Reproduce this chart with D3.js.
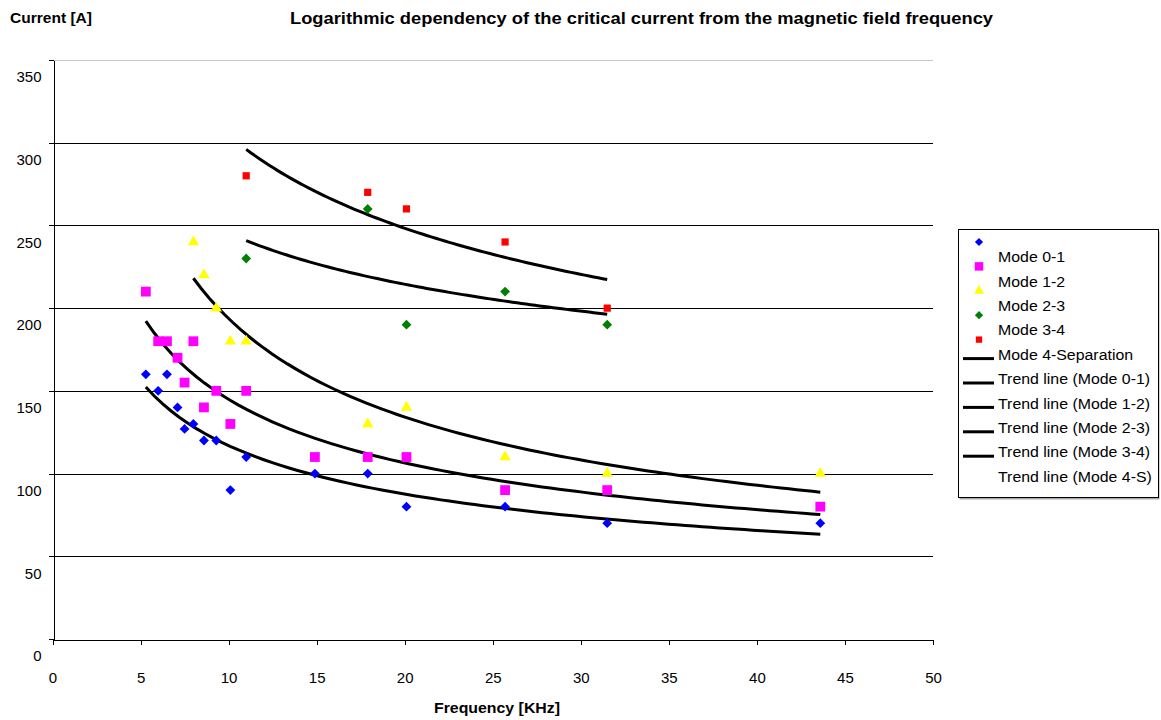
<!DOCTYPE html>
<html>
<head>
<meta charset="utf-8">
<script src="https://cdn.jsdelivr.net/npm/d3@7"></script>
<style>
  body { margin: 0; background: #fff; }
  text { font-family: "Liberation Sans", Arial, sans-serif; fill: #000; }
  .grid line { stroke: #000; shape-rendering: crispEdges; }
  .trend { fill: none; stroke: #000; stroke-width: 3; }
</style>
</head>
<body>
<svg id="chart" width="1161" height="720"></svg>
<script>
'use strict';

// frequencies [KHz]
const freqA = [5.3, 6.0, 6.5, 7.1, 7.5, 8.0, 8.6, 9.3, 10.1, 11.0, 14.9, 17.9, 20.1, 25.7, 31.5, 43.6];
const freqB = [8.0, 8.6, 9.3, 10.1, 11.0, 17.9, 20.1, 25.7, 31.5, 43.6];
const freqC = [11.0, 17.9, 20.1, 25.7, 31.5];

// critical current [A]
const mode01 = [160, 150, 160, 140, 127, 130, 120, 120, 90, 110, 100, 100, 80, 80, 70, 70];
const mode12 = [210, 180, 180, 170, 155, 180, 140, 150, 130, 150, 110, 110, 110, 90, 90, 80];
const mode23 = [240, 220, 200, 180, 180, 130, 140, 110, 100, 100];
const mode34 = [230, 260, 190, 210, 190];
const mode4S = [280, 270, 260, 240, 200];

const xTicks = [0, 5, 10, 15, 20, 25, 30, 35, 40, 45, 50];
const yTicks = [0, 50, 100, 150, 200, 250, 300, 350];

const legendLabels = ['Mode 0-1', 'Mode 1-2', 'Mode 2-3', 'Mode 3-4', 'Mode 4-Separation',
  'Trend line (Mode 0-1)', 'Trend line (Mode 1-2)', 'Trend line (Mode 2-3)',
  'Trend line (Mode 3-4)', 'Trend line (Mode 4-S)'];

const series = [
  { x: freqA, y: mode01, color: '#0000ff', shape: 'diamond', size: 48, legSize: 34 },
  { x: freqA, y: mode12, color: '#ff00ff', shape: 'square', size: 96, legSize: 72 },
  { x: freqB, y: mode23, color: '#ffff00', shape: 'triangle', size: 56, legSize: 42 },
  { x: freqC, y: mode34, color: '#008000', shape: 'diamond', size: 48, legSize: 34 },
  { x: freqC, y: mode4S, color: '#ff0000', shape: 'square', size: 52, legSize: 40 }
];

const svg = d3.select('#chart');

const x = d3.scaleLinear().domain([0, 50]).range([52.5, 933]);
const y = d3.scaleLinear().domain([0, 350]).range([639, 60]);

const symbolPath = function(shape, size) {
  if (shape === 'triangle') return d3.symbol(d3.symbolTriangle, size)();
  return d3.symbol(d3.symbolSquare, size)();
};
const symbolRot = shape => shape === 'diamond' ? ' rotate(45)' : '';

// power trend line, least squares in log-log space (like the spreadsheet does)
const powerFit = function(xs, ys) {
  const lx = xs.map(Math.log), ly = ys.map(Math.log);
  const mx = d3.mean(lx), my = d3.mean(ly);
  const b = d3.sum(lx, (v, i) => (v - mx) * (ly[i] - my)) / d3.sum(lx, v => (v - mx) * (v - mx));
  const a = Math.exp(my - b * mx);
  const [x0, x1] = d3.extent(xs);
  return d3.range(0, 81).map(i => {
    const xv = x0 + (x1 - x0) * i / 80;
    return [xv, a * Math.pow(xv, b)];
  });
};

// grid
const grid = svg.append('g').attr('class', 'grid');
grid.selectAll('line')
  .data(yTicks.filter(t => t > 0))
  .enter().append('line')
    .attr('x1', x(0)).attr('x2', x(50))
    .attr('y1', d => Math.round(y(d)) + 0.5)
    .attr('y2', d => Math.round(y(d)) + 0.5)
    .style('stroke', d => d === 350 ? '#c8c8c8' : '#000');

// axes
const xAxis = svg.append('g')
  .attr('transform', `translate(0, ${Math.round(y(0)) + 0.5})`)
  .call(d3.axisBottom(x).tickValues(xTicks).tickSize(5).tickSizeOuter(0).tickFormat(d3.format('d')));
xAxis.selectAll('text').attr('dy', 0).attr('y', 43).style('font-size', '15px');

const yAxis = svg.append('g')
  .attr('transform', `translate(${Math.round(x(0)) + 0.5}, 0)`)
  .call(d3.axisLeft(y).tickValues(yTicks).tickSize(5).tickSizeOuter(0).tickFormat(d3.format('d')));
yAxis.selectAll('text').attr('x', -12).attr('dy', '1.45em').style('font-size', '15px');
svg.selectAll('.domain, .tick line').attr('stroke', '#000').style('shape-rendering', 'crispEdges');
svg.selectAll('.tick text').style('font-family', '"Liberation Sans", Arial, sans-serif');

// trend lines
const line = d3.line().x(d => x(d[0])).y(d => y(d[1]));
svg.append('g').selectAll('path')
  .data(series)
  .enter().append('path')
    .attr('class', 'trend')
    .attr('d', s => line(powerFit(s.x, s.y)));

// points
series.forEach(s => {
  svg.append('g').selectAll('path')
    .data(s.x.map((xv, i) => [xv, s.y[i]]))
    .enter().append('path')
      .attr('d', symbolPath(s.shape, s.size))
      .attr('transform', d => `translate(${x(d[0])}, ${y(d[1])})${symbolRot(s.shape)}`)
      .attr('fill', s.color);
});

// titles (the original text is a bit wider than the font, so stretch it)
svg.append('text')
  .attr('x', 10).attr('y', 23)
  .attr('textLength', 82).attr('lengthAdjust', 'spacingAndGlyphs')
  .style('font-size', '15px').style('font-weight', 'bold')
  .text('Current [A]');

svg.append('text')
  .attr('x', 290).attr('y', 24)
  .attr('textLength', 703).attr('lengthAdjust', 'spacingAndGlyphs')
  .style('font-size', '16px').style('font-weight', 'bold')
  .text('Logarithmic dependency of the critical current from the magnetic field frequency');

svg.append('text')
  .attr('x', 434).attr('y', 713)
  .attr('textLength', 126).attr('lengthAdjust', 'spacingAndGlyphs')
  .style('font-size', '15px').style('font-weight', 'bold')
  .text('Frequency [KHz]');

// legend
const legend = svg.append('g');
legend.append('rect')
  .attr('x', 959.5).attr('y', 231.5).attr('width', 200).attr('height', 268)
  .attr('fill', '#aaa');
legend.append('rect')
  .attr('x', 958.5).attr('y', 229.5).attr('width', 200).attr('height', 268)
  .attr('fill', '#fff').attr('stroke', '#000');

const rowY = i => 257 + i * 24.4;

legend.selectAll('text')
  .data(legendLabels)
  .enter().append('text')
    .attr('transform', (d, i) => `translate(998, ${rowY(i)}) scale(1.06, 1)`)
    .attr('dy', '0.35em')
    .style('font-size', '15px')
    .text(d => d);

legend.selectAll('path.mark')
  .data(series)
  .enter().append('path')
    .attr('class', 'mark')
    .attr('d', s => symbolPath(s.shape, s.legSize))
    .attr('transform', (s, i) => `translate(979, ${rowY(i) - 15})${symbolRot(s.shape)}`)
    .attr('fill', s => s.color);

legend.selectAll('line.sample')
  .data(series)
  .enter().append('line')
    .attr('class', 'sample')
    .attr('x1', 963).attr('x2', 994)
    .attr('y1', (s, i) => rowY(i + 4) + 4)
    .attr('y2', (s, i) => rowY(i + 4) + 4)
    .attr('stroke', '#000').attr('stroke-width', 3);
</script>
</body>
</html>
